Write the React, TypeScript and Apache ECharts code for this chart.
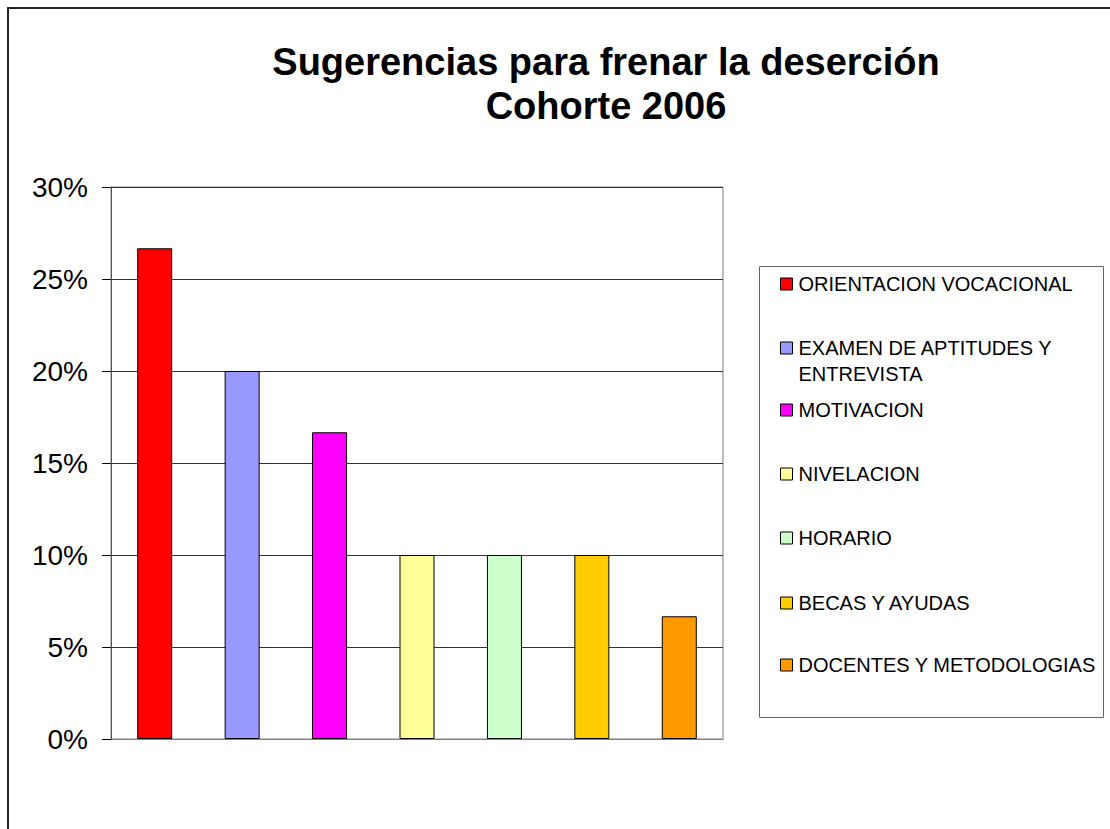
import React, { useEffect, useRef } from "react";
import * as echarts from "echarts";

const titleLines = ["Sugerencias para frenar la deserción", "Cohorte 2006"];
const seriesNames = [
  "ORIENTACION VOCACIONAL",
  "EXAMEN DE APTITUDES Y ENTREVISTA",
  "MOTIVACION",
  "NIVELACION",
  "HORARIO",
  "BECAS Y AYUDAS",
  "DOCENTES Y METODOLOGIAS",
];
const legendLabels = [
  "ORIENTACION VOCACIONAL",
  "EXAMEN DE APTITUDES Y\nENTREVISTA",
  "MOTIVACION",
  "NIVELACION",
  "HORARIO",
  "BECAS Y AYUDAS",
  "DOCENTES Y METODOLOGIAS",
];
const values = [0.2667, 0.2, 0.1667, 0.1, 0.1, 0.1, 0.0667];
const colors = ["#FF0000", "#9999FF", "#FF00FF", "#FFFF99", "#CCFFCC", "#FFCC00", "#FF9900"];
const yTicks = { min: 0, max: 0.3, interval: 0.05 };

const FONT = '"Liberation Sans", Arial, sans-serif';

export default function App() {
  const ref = useRef<HTMLDivElement>(null);
  useEffect(() => {
    if (!ref.current) return;
    const chart = echarts.init(ref.current, undefined, { renderer: "svg" });
    const legendCenters = [284, 348, 410, 474, 538, 603, 665];
    const legends = seriesNames.map((name, i) => {
      const twoLine = legendLabels[i].includes("\n");
      return {
        orient: "vertical",
        left: 780,
        top: twoLine ? legendCenters[i] - 39 : legendCenters[i] - 11,
        padding: 0,
        itemWidth: 12,
        itemHeight: 12,
        selectedMode: false,
        icon: "rect",
        data: [name],
        // blank leading line keeps the first text line level with the marker
        formatter: () => (twoLine ? " \n" + legendLabels[i] : legendLabels[i]),
        textStyle: {
          fontFamily: FONT,
          fontSize: 20,
          color: "#000",
          lineHeight: twoLine ? 26 : 22,
          padding: [0, 0, 0, 1],
        },
        itemStyle: { borderColor: "#000", borderWidth: 1 },
      };
    });
    chart.setOption({
      animation: false,
      backgroundColor: "#fff",
      title: {
        text: titleLines.join("\n"),
        left: 606,
        top: 40,
        textAlign: "center",
        padding: 0,
        textStyle: {
          fontFamily: FONT,
          fontSize: 38,
          fontWeight: "bold",
          lineHeight: 44,
          color: "#000",
        },
      },
      legend: legends,
      grid: {
        left: 111,
        right: 387,
        top: 187,
        bottom: 90,
        show: true,
        borderColor: "#808080",
        borderWidth: 1,
        containLabel: false,
      },
      xAxis: {
        type: "category",
        data: seriesNames,
        axisLine: { show: true, lineStyle: { color: "#808080", width: 1 } },
        axisTick: { show: false },
        axisLabel: { show: false },
      },
      yAxis: {
        type: "value",
        min: yTicks.min,
        max: yTicks.max,
        interval: yTicks.interval,
        axisLine: { show: true, lineStyle: { color: "#555", width: 1 } },
        axisTick: { show: true, length: 9, lineStyle: { color: "#000" } },
        axisLabel: {
          formatter: (v: number) => Math.round(v * 100) + "%",
          fontFamily: FONT,
          fontSize: 28,
          color: "#000",
          margin: 23,
        },
        splitLine: { show: true, lineStyle: { color: "#333", width: 1 } },
      },
      series: seriesNames.map((name, i) => ({
        name,
        type: "bar",
        stack: "all",
        barWidth: 35,
        data: values.map((v, j) => (j === i ? v : null)),
        itemStyle: { color: colors[i], borderColor: "#000", borderWidth: 1 },
      })),
      graphic: [
        {
          type: "rect",
          shape: { x: 8, y: 8, width: 1200, height: 1000 },
          style: { fill: "none", stroke: "#222", lineWidth: 2 },
          silent: true,
        },
        {
          type: "rect",
          shape: { x: 759.5, y: 266.5, width: 344, height: 451 },
          style: { fill: "none", stroke: "#666", lineWidth: 1 },
          silent: true,
        },
      ],
    });
    return () => chart.dispose();
  }, []);
  return (
    <div
      ref={ref}
      style={{ position: "fixed", left: 0, top: 0, width: 1110, height: 829 }}
    />
  );
}
